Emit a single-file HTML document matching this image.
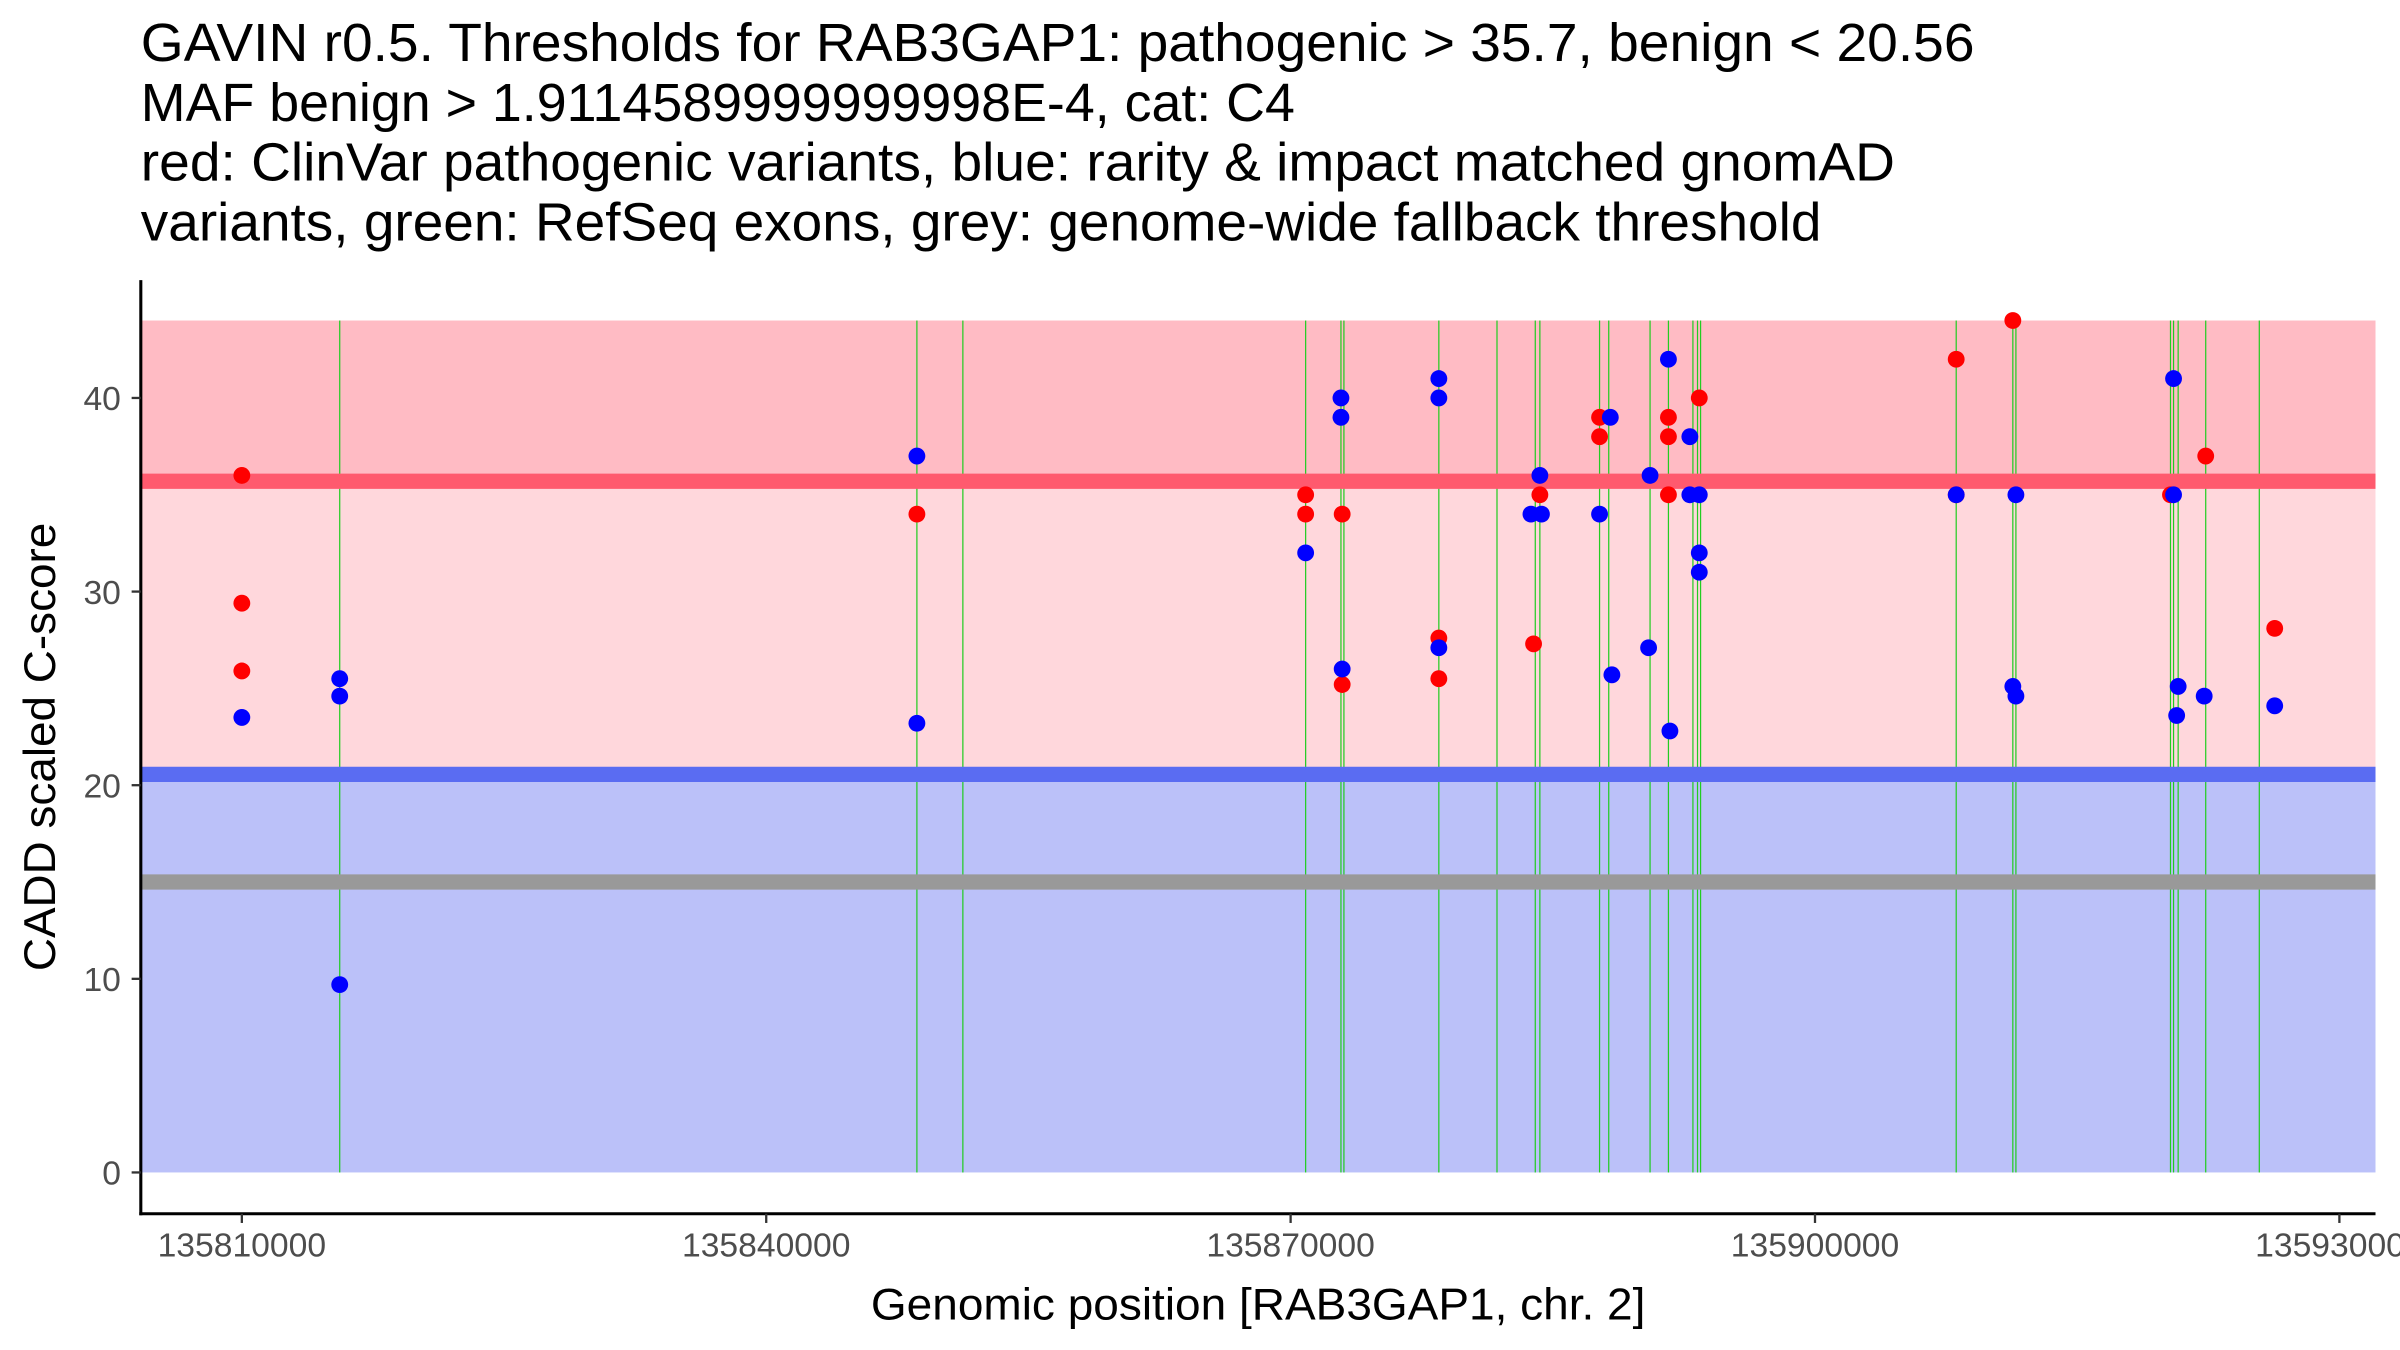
<!DOCTYPE html>
<html><head><meta charset="utf-8"><style>
html,body{margin:0;padding:0;background:#fff;}
svg{display:block;font-family:"Liberation Sans",Arial,sans-serif;}
</style></head><body>
<svg id="chart" width="2400" height="1350" viewBox="0 0 1568 882" xmlns="http://www.w3.org/2000/svg">
<g font-size="35" fill="#000">
<text x="92" y="40" textLength="1198" lengthAdjust="spacingAndGlyphs">GAVIN r0.5. Thresholds for RAB3GAP1: pathogenic &gt; 35.7, benign &lt; 20.56</text>
<text x="92" y="79" textLength="754" lengthAdjust="spacingAndGlyphs">MAF benign &gt; 1.9114589999999998E-4, cat: C4</text>
<text x="92" y="118" textLength="1146" lengthAdjust="spacingAndGlyphs">red: ClinVar pathogenic variants, blue: rarity &amp; impact matched gnomAD</text>
<text x="92" y="157" textLength="1098" lengthAdjust="spacingAndGlyphs">variants, green: RefSeq exons, grey: genome-wide fallback threshold</text>
</g>
<g id="bands"></g>
<g id="exons"></g>
<g id="thresholds"></g>
<g id="points"></g>
<g id="axes"></g>
<text x="822" y="862" font-size="29" text-anchor="middle" textLength="506" lengthAdjust="spacingAndGlyphs">Genomic position [RAB3GAP1, chr. 2]</text>
<text transform="translate(36,488) rotate(-90)" font-size="29" text-anchor="middle" textLength="293" lengthAdjust="spacingAndGlyphs">CADD scaled C-score</text>
</svg>
<script>
const xTicks=[135810000,135840000,135870000,135900000,135930000];
const yTicks=[0,10,20,30,40];
const pathogenicThreshold=35.7;
const benignThreshold=20.56;
const fallbackThreshold=15;
const bandTop=44;
const exonPositions=[135815600,135848620,135851250,135870860,135872880,135873050,135878480,135881807,135883997,135884260,135887675,135888200,135890564,135891615,135893016,135893279,135893454,135908078,135911318,135911494,135920338,135920513,135920776,135922353,135925418];
const clinvarPos=[135810000,135810000,135810000,135848620,135870860,135870860,135872950,135872950,135878480,135878480,135883900,135884260,135887675,135887675,135891615,135891615,135891615,135893380,135908078,135908078,135911318,135920338,135922353,135926300];
const clinvarScore=[36,29.4,25.9,34,35,34,34,25.2,27.6,25.5,27.3,35,39,38,39,38,35,40,42,35,44,35,37,28.1];
const gnomadPos=[135810000,135815600,135815600,135815600,135848620,135848620,135870860,135872880,135872880,135872950,135878480,135878480,135878480,135883750,135884350,135884260,135887675,135888290,135888380,135890564,135890480,135891615,135891700,135892840,135892840,135893380,135893380,135893380,135908078,135911318,135911494,135911494,135920513,135920513,135920690,135920776,135922265,135926300];
const gnomadScore=[23.5,25.5,24.6,9.7,37,23.2,32,40,39,26,41,40,27.1,34,34,36,34,39,25.7,36,27.1,42,22.8,38,35,35,32,31,35,25.1,24.6,35,41,35,23.6,25.1,24.6,24.1];

const NS="http://www.w3.org/2000/svg";
const L=92,R=1552,T=183,B=793;
const X=v=>158+(v-135810000)*342.6/30000;
const Y=v=>766-v*12.65;
function mk(parent,tag,attrs){const e=document.createElementNS(NS,tag);for(const k in attrs)e.setAttribute(k,attrs[k]);document.getElementById(parent).appendChild(e);return e;}

let e;
e=mk('bands','rect',{x:L,y:Y(bandTop),width:R-L,height:Y(pathogenicThreshold)-Y(bandTop),fill:'#FFBBC4'});


e=mk('bands','rect',{x:L,y:Y(pathogenicThreshold),width:R-L,height:Y(benignThreshold)-Y(pathogenicThreshold),fill:'#FFD7DC'});


e=mk('bands','rect',{x:L,y:Y(benignThreshold),width:R-L,height:Y(0)-Y(benignThreshold),fill:'#BBC1F9'});



exonPositions.forEach(p=>{
  e=mk('exons','line',{x1:X(p),x2:X(p),y1:Y(bandTop),y2:Y(0),stroke:'#22CC22','stroke-width':0.8});
  
  
});

e=mk('thresholds','line',{x1:L,x2:R,y1:Y(pathogenicThreshold),y2:Y(pathogenicThreshold),stroke:'#FF5A6E','stroke-width':10});


e=mk('thresholds','line',{x1:L,x2:R,y1:Y(benignThreshold),y2:Y(benignThreshold),stroke:'#5A6CF2','stroke-width':10});


e=mk('thresholds','line',{x1:L,x2:R,y1:Y(fallbackThreshold),y2:Y(fallbackThreshold),stroke:'#999999','stroke-width':10});



clinvarPos.forEach((p,i)=>{
  e=mk('points','circle',{cx:X(p),cy:Y(clinvarScore[i]),r:5.5,fill:'#FF0000'});
  
  
});
gnomadPos.forEach((p,i)=>{
  e=mk('points','circle',{cx:X(p),cy:Y(gnomadScore[i]),r:5.5,fill:'#0000FF'});
  
  
});

e=mk('axes','line',{x1:L,x2:L,y1:T,y2:B+1,stroke:'#000','stroke-width':2});


e=mk('axes','line',{x1:L-1,x2:R,y1:B,y2:B,stroke:'#000','stroke-width':2});


yTicks.forEach(v=>{
  e=mk('axes','line',{x1:L-6,x2:L,y1:Y(v),y2:Y(v),stroke:'#333','stroke-width':1.5});
  
  
  e=mk('axes','text',{x:L-13,y:Y(v)+8,'font-size':22,fill:'#4D4D4D','text-anchor':'end'});
  e.textContent=v;
  
  
});
xTicks.forEach(v=>{
  e=mk('axes','line',{x1:X(v),x2:X(v),y1:B,y2:B+6,stroke:'#333','stroke-width':1.5});
  
  
  e=mk('axes','text',{x:X(v),y:B+28,'font-size':22,fill:'#4D4D4D','text-anchor':'middle'});
  e.textContent=v;
  
  
});
</script>
</body></html>
